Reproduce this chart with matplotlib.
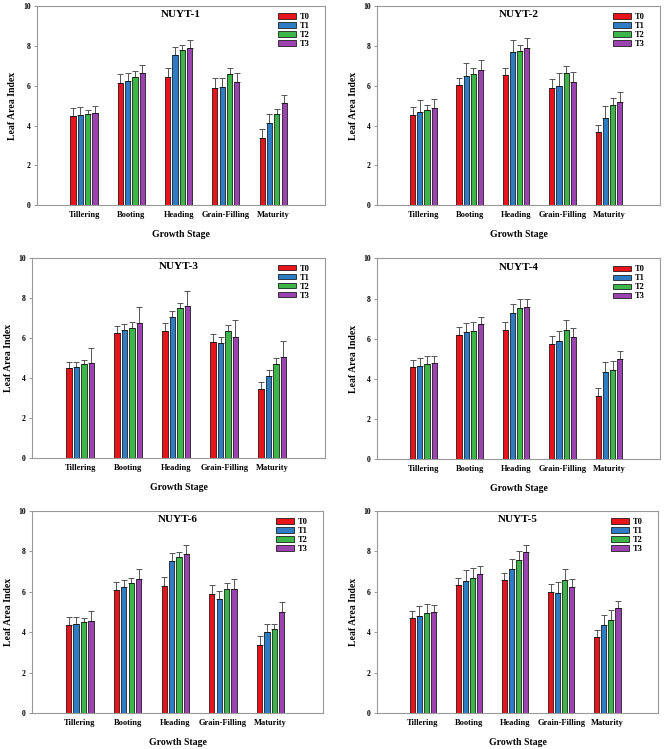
import matplotlib
matplotlib.use("Agg")
import matplotlib.pyplot as plt
import numpy as np

stages = ["Tillering", "Booting", "Heading", "Grain-Filling", "Maturity"]
treatments = ["T0", "T1", "T2", "T3"]
colors = ["#E8131B", "#2E7DC4", "#3DB54A", "#9B44B0"]

# mean LAI per stage, one row per treatment (T0..T3)
nuyt1 = [[4.47, 6.13, 6.43, 5.87, 3.35],
         [4.52, 6.22, 7.52, 5.93, 4.15],
         [4.57, 6.45, 7.77, 6.58, 4.57],
         [4.63, 6.62, 7.88, 6.18, 5.13]]
nuyt1_top = [[4.88, 6.60, 6.90, 6.37, 3.82],
             [4.92, 6.63, 7.95, 6.40, 4.60],
             [4.80, 6.72, 8.03, 6.90, 4.85],
             [5.00, 7.02, 8.27, 6.62, 5.55]]

nuyt2 = [[4.55, 6.03, 6.52, 5.88, 3.67],
         [4.68, 6.48, 7.68, 6.00, 4.37],
         [4.77, 6.58, 7.72, 6.62, 5.03],
         [4.88, 6.80, 7.88, 6.20, 5.20]]
nuyt2_top = [[4.92, 6.40, 6.90, 6.32, 4.05],
             [5.27, 7.12, 8.30, 6.65, 4.98],
             [5.05, 6.88, 8.03, 6.98, 5.37],
             [5.33, 7.28, 8.37, 6.70, 5.67]]

nuyt3 = [[4.48, 6.23, 6.35, 5.80, 3.45],
         [4.55, 6.42, 7.03, 5.73, 4.10],
         [4.68, 6.48, 7.47, 6.35, 4.70],
         [4.73, 6.73, 7.57, 6.05, 5.03]]
nuyt3_top = [[4.81, 6.60, 6.72, 6.22, 3.83],
             [4.81, 6.70, 7.32, 6.05, 4.42],
             [4.92, 6.78, 7.75, 6.65, 4.98],
             [5.52, 7.53, 8.35, 6.90, 5.83]]

nuyt4 = [[4.60, 6.20, 6.45, 5.72, 3.17],
         [4.62, 6.33, 7.28, 5.88, 4.35],
         [4.73, 6.38, 7.52, 6.43, 4.45],
         [4.78, 6.72, 7.58, 6.10, 5.00]]
nuyt4_top = [[4.93, 6.57, 6.82, 6.13, 3.55],
             [5.03, 6.78, 7.72, 6.38, 4.82],
             [5.15, 6.83, 7.97, 6.92, 4.88],
             [5.12, 7.08, 7.97, 6.52, 5.38]]

nuyt6 = [[4.35, 6.07, 6.30, 5.88, 3.38],
         [4.40, 6.23, 7.53, 5.63, 4.02],
         [4.50, 6.42, 7.73, 6.13, 4.18],
         [4.57, 6.63, 7.85, 6.12, 5.00]]
nuyt6_top = [[4.73, 6.50, 6.73, 6.35, 3.82],
             [4.73, 6.58, 7.90, 6.03, 4.38],
             [4.68, 6.67, 7.95, 6.42, 4.42],
             [5.03, 7.13, 8.33, 6.65, 5.50]]

nuyt5 = [[4.70, 6.33, 6.58, 6.00, 3.77],
         [4.80, 6.55, 7.12, 5.93, 4.35],
         [4.93, 6.68, 7.55, 6.60, 4.60],
         [5.00, 6.90, 7.95, 6.23, 5.20]]
nuyt5_top = [[5.03, 6.67, 6.92, 6.37, 4.12],
             [5.30, 7.07, 7.62, 6.50, 4.87],
             [5.38, 7.17, 8.03, 7.12, 5.08],
             [5.32, 7.25, 8.30, 6.63, 5.55]]

panels = [
    ("NUYT-1", nuyt1, nuyt1_top, [0.055, 0.726, 0.431, 0.266]),
    ("NUYT-2", nuyt2, nuyt2_top, [0.5635, 0.726, 0.423, 0.266]),
    ("NUYT-3", nuyt3, nuyt3_top, [0.048, 0.388, 0.438, 0.268]),
    ("NUYT-4", nuyt4, nuyt4_top, [0.5635, 0.387, 0.423, 0.268]),
    ("NUYT-6", nuyt6, nuyt6_top, [0.048, 0.048, 0.435, 0.270]),
    ("NUYT-5", nuyt5, nuyt5_top, [0.5635, 0.048, 0.420, 0.270]),
]

plt.rcParams['font.family'] = ['Liberation Serif', 'DejaVu Serif']
plt.rcParams['font.weight'] = 'bold'

fig = plt.figure(figsize=(6.69, 7.49), dpi=100)

x = np.arange(1, len(stages) + 1)  # stage locations
width = 0.11  # the width of the bars
step = 0.155

for title, means, tops, rect in panels:
    ax = fig.add_axes(rect)
    for i, tr in enumerate(treatments):
        m = np.array(means[i])
        err = np.array(tops[i]) - m
        pos = x + (i - 1.5) * step
        ax.bar(pos, m, width, color=colors[i], edgecolor="black", linewidth=0.5,
               label=tr, zorder=2)
        ax.errorbar(pos, m, yerr=[np.zeros_like(err), err], fmt="none",
                    ecolor="#555555", elinewidth=0.7, capsize=2.5, capthick=0.7,
                    zorder=1)

    ax.set_xlim(0, 6.1)
    ax.set_ylim(0, 10)
    ax.set_yticks(np.arange(0, 11, 2))
    ax.set_xticks(x)
    ax.set_xticklabels(stages)
    ax.tick_params(axis="x", length=0, labelsize=6, pad=4)
    ax.tick_params(axis="y", length=2.5, width=0.6, color="#888888", labelsize=5.5, pad=2)
    for s in ax.spines.values():
        s.set_color("#999999")
        s.set_linewidth(0.8)

    ax.set_ylabel("Leaf Area Index", fontsize=7, fontweight="bold", labelpad=4)
    ax.set_xlabel("Growth Stage", fontsize=7, fontweight="bold", labelpad=8)
    ax.text(0.5, 0.955, title, transform=ax.transAxes, ha="center", va="center",
            fontsize=8, fontweight="bold")
    ax.legend(loc="upper right", bbox_to_anchor=(0.965, 0.99), frameon=False,
              fontsize=6, handlelength=2.2, handleheight=0.6, labelspacing=0.12,
              handletextpad=0.5, borderaxespad=0.2)

fig.savefig("out.png", dpi=100)
